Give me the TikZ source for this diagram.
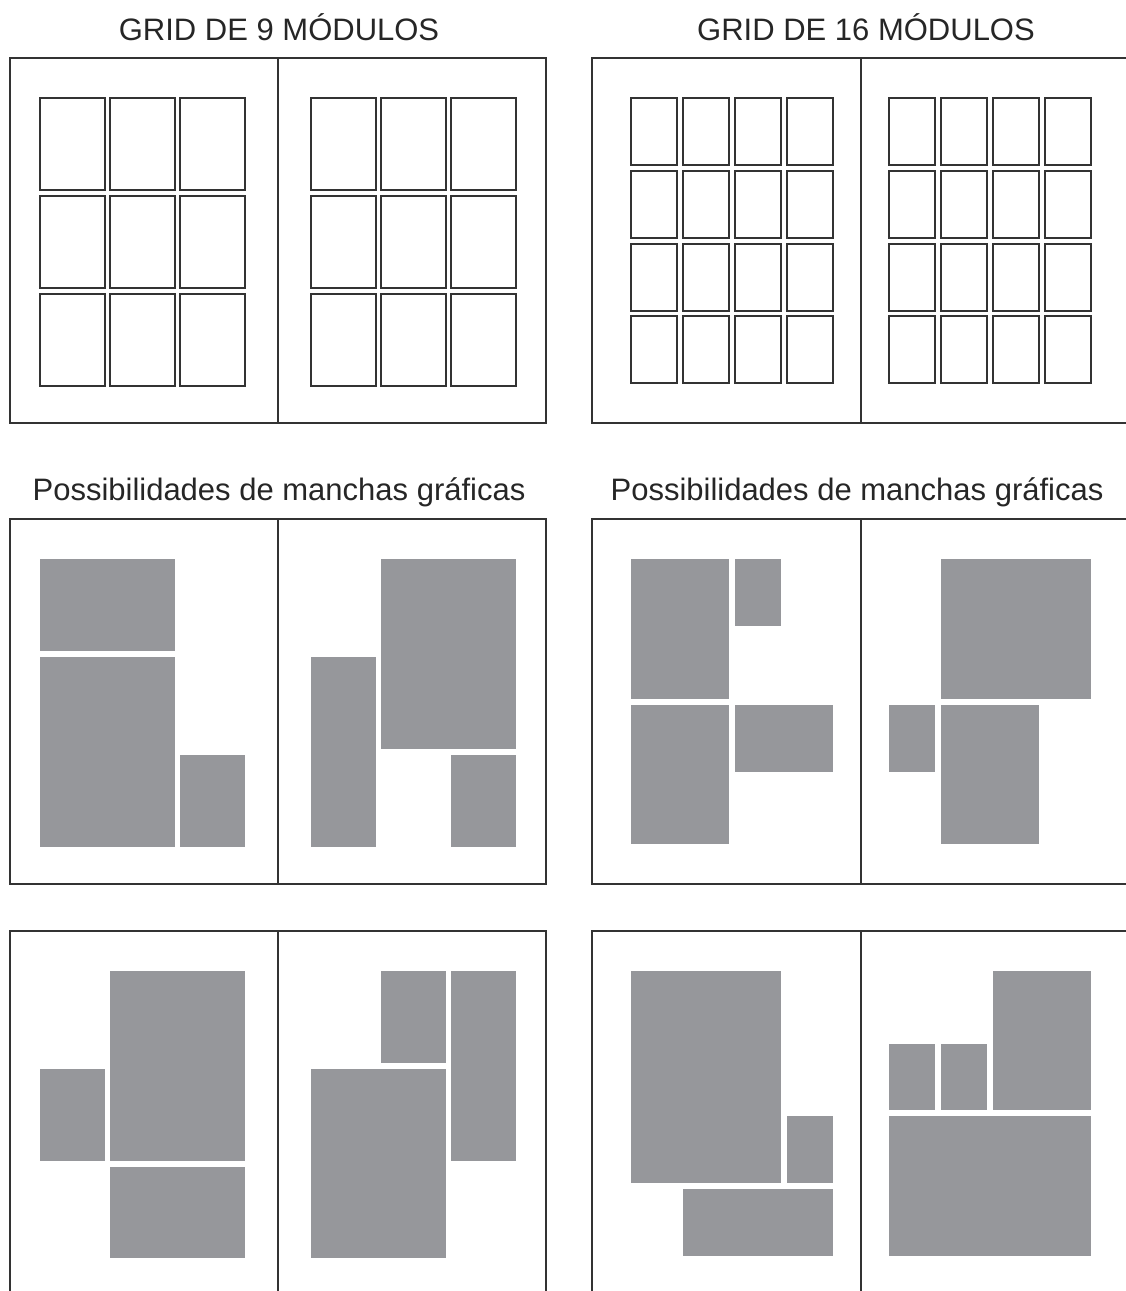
\documentclass[tikz,border=0pt]{standalone}
\usepackage{fontspec}
\setmainfont{Liberation Sans}
\definecolor{mgray}{RGB}{150,151,155}
\definecolor{lgray}{RGB}{51,51,51}
\begin{document}
\begin{tikzpicture}[x=1pt,y=-1pt,
  frame/.style={draw=lgray,line width=1.5pt},
  module/.style={draw=lgray,line width=1.2pt},
  mancha/.style={fill=mgray},
  title/.style={font=\fontsize{31}{36}\selectfont,anchor=base,text=black!85,inner sep=0pt}]
\useasboundingbox (0,0) rectangle (1126,1291);
% titles
\node[title] (t9) at (279,40) {GRID DE 9 MÓDULOS};
\node[title] (t16) at (866,40) {GRID DE 16 MÓDULOS};
\node[title] (p1) at (279,500) {Possibilidades de manchas gráficas};
\node[title] (p2) at (857,500) {Possibilidades de manchas gráficas};
% ---------- row 1 frames
\draw[frame] (10,58) rectangle (546,423);
\draw[frame] (278,58) -- (278,423);
\draw[frame] (1126,58) -- (592,58) -- (592,423) -- (1126,423);
\draw[frame] (861,58) -- (861,423);
% 9 modules
\foreach \x in {40,110,180,311,381,451}
  \foreach \y in {98,196,294}
    \draw[module] (\x,\y) rectangle ++(65,92);
% 16 modules
\foreach \x in {631,683,735,787,889,941,993,1045}
  \foreach \y in {98,171,244,316}
    \draw[module] (\x,\y) rectangle ++(46,67);
% ---------- row 2
\fill[mancha] (40,559) rectangle (175,651);
\fill[mancha] (40,657) rectangle (175,847);
\fill[mancha] (180,755) rectangle (245,847);
\fill[mancha] (311,657) rectangle (376,847);
\fill[mancha] (381,559) rectangle (516,749);
\fill[mancha] (451,755) rectangle (516,847);
\fill[mancha] (631,559) rectangle (729,699);
\fill[mancha] (735,559) rectangle (781,626);
\fill[mancha] (631,705) rectangle (729,844);
\fill[mancha] (735,705) rectangle (833,772);
\fill[mancha] (941,559) rectangle (1091,699);
\fill[mancha] (889,705) rectangle (935,772);
\fill[mancha] (941,705) rectangle (1039,844);
\draw[frame] (10,519) rectangle (546,884);
\draw[frame] (278,519) -- (278,884);
\draw[frame] (1126,519) -- (592,519) -- (592,884) -- (1126,884);
\draw[frame] (861,519) -- (861,884);
% ---------- row 3
\fill[mancha] (110,971) rectangle (245,1161);
\fill[mancha] (40,1069) rectangle (105,1161);
\fill[mancha] (110,1167) rectangle (245,1258);
\fill[mancha] (381,971) rectangle (446,1063);
\fill[mancha] (451,971) rectangle (516,1161);
\fill[mancha] (311,1069) rectangle (446,1258);
\fill[mancha] (631,971) rectangle (781,1183);
\fill[mancha] (787,1116) rectangle (833,1183);
\fill[mancha] (683,1189) rectangle (833,1256);
\fill[mancha] (889,1044) rectangle (935,1110);
\fill[mancha] (941,1044) rectangle (987,1110);
\fill[mancha] (993,971) rectangle (1091,1110);
\fill[mancha] (889,1116) rectangle (1091,1256);
\draw[frame] (10,1291) -- (10,931) -- (546,931) -- (546,1291);
\draw[frame] (278,931) -- (278,1291);
\draw[frame] (592,1291) -- (592,931) -- (1126,931);
\draw[frame] (861,931) -- (861,1291);
\end{tikzpicture}
\end{document}
